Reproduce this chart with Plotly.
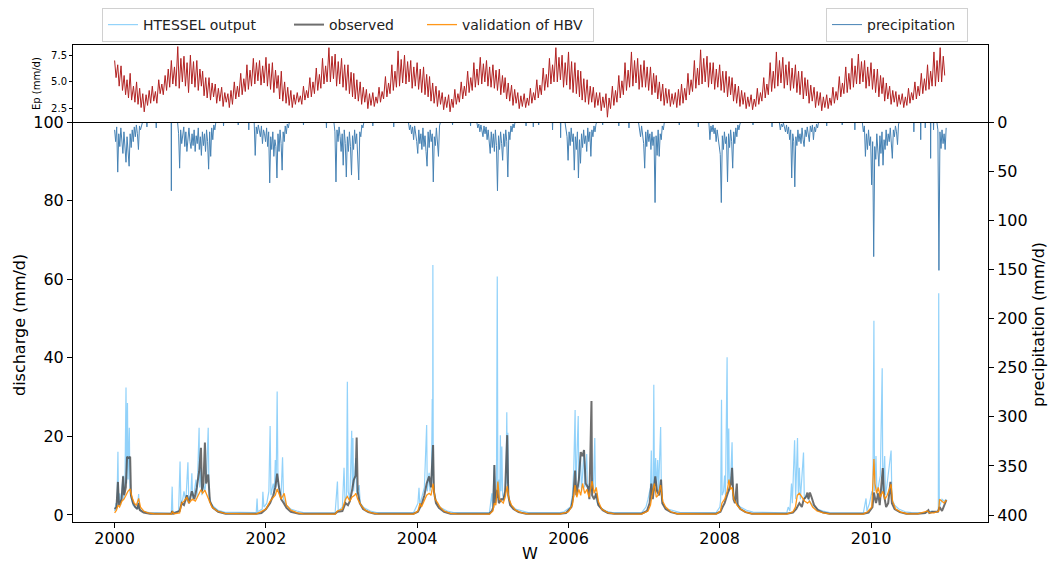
import plotly.graph_objects as go
import pandas as pd

# ---------------- axis tick labels ----------------
x_tick_years = [2000, 2002, 2004, 2006, 2008, 2010]
q_ticks = [0, 20, 40, 60, 80, 100]
p_ticks = [0, 50, 100, 150, 200, 250, 300, 350, 400]
ep_ticks = [2.5, 5.0, 7.5]

# ---------------- Ep (mm/d): readings on days 1, 8, 16, 23 of each month ----------------
ep_years = list(range(2000, 2011))
ep_days = [1, 8, 16, 23]
ep_values = [
    [7.0, 5.4, 6.6, 4.6, 6.5, 4.2, 5.6, 3.8, 5.2, 3.5, 5.8, 3.3, 4.6, 3.1, 5.0, 2.9, 4.4, 2.6, 3.9, 2.2, 3.8, 2.8, 4.2, 3.0,
     4.6, 3.2, 4.1, 3.0, 5.2, 3.9, 4.8, 3.8, 5.6, 4.2, 6.2, 4.5, 7.0, 4.8, 6.4, 4.6, 8.3, 4.4, 7.2, 5.0, 7.4, 4.6, 6.8, 4.0],
    [7.5, 4.8, 6.9, 4.5, 7.0, 4.2, 6.2, 4.6, 6.0, 3.7, 5.4, 3.5, 5.4, 3.3, 4.9, 3.6, 4.8, 3.0, 4.4, 3.2, 4.5, 2.7, 4.0, 3.1,
     3.9, 2.6, 4.2, 2.9, 5.0, 3.4, 4.6, 3.6, 5.8, 3.8, 5.3, 4.1, 6.6, 4.3, 6.1, 4.6, 7.2, 4.8, 6.8, 5.1, 7.0, 4.7, 6.5, 4.9],
    [7.3, 4.6, 6.7, 4.3, 6.8, 4.0, 6.1, 4.4, 5.6, 3.4, 6.0, 3.2, 5.0, 3.0, 4.5, 2.8, 4.2, 2.6, 3.8, 2.9, 4.0, 3.1, 3.7, 2.9,
     4.6, 3.3, 4.2, 3.5, 5.4, 3.6, 5.0, 3.9, 6.3, 4.2, 5.7, 4.4, 7.2, 4.8, 6.5, 5.0, 8.2, 5.0, 7.4, 5.3, 7.6, 4.6, 6.9, 4.8],
    [7.2, 4.5, 6.6, 4.2, 6.6, 3.9, 5.9, 3.6, 5.8, 3.4, 5.2, 3.2, 5.0, 2.9, 4.5, 3.1, 4.3, 2.5, 3.9, 2.8, 4.0, 2.7, 3.6, 3.0,
     4.5, 3.1, 4.1, 3.4, 5.5, 3.6, 4.9, 3.9, 6.6, 4.2, 6.0, 4.5, 7.9, 4.6, 7.1, 4.9, 7.5, 4.8, 6.9, 5.0, 7.0, 4.4, 6.4, 4.6],
    [6.8, 4.3, 6.2, 4.0, 6.4, 3.8, 5.7, 3.6, 5.5, 3.2, 4.9, 3.0, 4.6, 2.7, 4.2, 2.9, 4.0, 2.4, 3.6, 2.6, 3.8, 2.2, 3.4, 2.6,
     4.3, 2.9, 3.9, 3.1, 5.0, 3.4, 4.6, 3.7, 6.0, 4.0, 5.4, 4.2, 6.8, 4.5, 6.2, 4.7, 7.3, 4.8, 6.7, 5.0, 7.0, 4.6, 6.4, 4.5],
    [6.6, 4.4, 6.1, 4.2, 6.2, 3.8, 5.6, 4.0, 5.4, 3.4, 4.9, 3.2, 4.7, 2.8, 4.3, 3.0, 4.0, 2.5, 3.7, 2.7, 3.9, 2.6, 3.5, 2.8,
     4.4, 3.0, 4.0, 3.3, 5.2, 3.5, 4.7, 3.8, 6.3, 4.2, 5.7, 4.5, 7.2, 4.8, 6.6, 5.0, 8.2, 5.0, 7.3, 5.2, 7.5, 4.5, 6.8, 4.7],
    [7.8, 4.3, 6.9, 4.0, 6.8, 3.9, 6.1, 3.6, 6.0, 3.3, 5.3, 3.1, 5.2, 2.9, 4.6, 3.1, 4.5, 2.6, 4.0, 2.8, 4.0, 2.3, 3.6, 2.6,
     3.9, 1.7, 3.5, 2.5, 4.6, 2.8, 4.2, 3.1, 5.6, 3.5, 5.1, 3.8, 6.8, 4.2, 6.1, 4.5, 7.8, 4.6, 7.0, 4.9, 7.2, 4.3, 6.6, 4.5],
    [7.0, 4.5, 6.4, 4.2, 6.4, 3.8, 5.8, 4.0, 5.6, 3.4, 5.0, 3.2, 4.8, 2.8, 4.4, 3.0, 4.3, 2.7, 3.9, 2.9, 4.0, 2.6, 4.3, 2.8,
     4.8, 3.0, 4.4, 3.3, 5.8, 3.8, 5.2, 4.1, 7.0, 4.4, 6.3, 4.7, 8.0, 4.8, 7.2, 5.0, 7.4, 4.5, 6.8, 4.8, 6.8, 4.3, 6.2, 4.5],
    [6.6, 4.2, 6.0, 4.0, 6.0, 3.6, 5.5, 3.8, 5.4, 3.2, 4.8, 3.0, 4.6, 2.7, 4.2, 2.9, 4.0, 2.5, 3.6, 2.7, 3.8, 2.4, 3.4, 2.7,
     4.4, 2.9, 4.0, 3.2, 5.4, 3.5, 4.8, 3.8, 6.8, 4.1, 6.0, 4.4, 7.8, 4.6, 7.0, 4.9, 7.3, 4.4, 6.6, 4.7, 6.9, 4.2, 6.3, 4.4],
    [6.6, 4.0, 6.0, 3.8, 6.0, 3.4, 5.4, 3.7, 5.2, 3.0, 4.7, 3.2, 4.5, 2.6, 4.1, 2.8, 4.0, 2.3, 3.6, 2.6, 3.8, 2.5, 3.5, 2.8,
     4.5, 3.0, 4.1, 3.3, 5.5, 3.6, 4.9, 3.9, 6.4, 4.0, 5.8, 4.3, 7.2, 4.5, 6.5, 4.8, 7.6, 4.8, 6.9, 5.0, 7.0, 4.4, 6.4, 4.6],
    [6.8, 4.3, 6.2, 4.0, 6.2, 3.6, 5.6, 3.9, 5.4, 3.2, 4.9, 3.4, 4.6, 2.9, 4.2, 3.1, 4.1, 2.7, 3.8, 2.9, 3.9, 2.6, 3.6, 2.8,
     4.4, 3.0, 4.0, 3.3, 5.0, 3.4, 4.6, 3.7, 5.8, 3.9, 5.3, 4.2, 6.6, 4.3, 6.0, 4.6, 7.8, 4.6, 7.0, 5.0, 8.2, 5.0, 7.4, 5.6],
]

# ---------------- precipitation (mm/d) ----------------
# wet-season blocks: start date + readings every 5 days
prec_block_step_days = 5
prec_block_starts = ["2000-01-01", "2000-10-31", "2001-11-05", "2002-11-25", "2003-11-20",
                     "2004-10-15", "2005-12-15", "2006-12-05", "2007-11-10", "2008-10-15",
                     "2009-11-20", "2010-11-15"]
prec_blocks = [
    [8, 20, 5, 51, 12, 25, 6, 22, 32, 10, 24, 41, 15, 30, 45, 12, 26, 8, 20, 5, 15, 3, 12, 28, 4, 8, 2, 0],
    [0, 12, 47, 8, 22, 15, 5, 25, 10, 30, 18, 6, 20, 27, 12, 24, 8, 30, 14, 22, 6, 28, 15, 34, 10,
     24, 12, 30, 8, 20, 48, 10, 35, 6, 18, 3, 8, 0],
    [0, 34, 5, 12, 3, 8, 15, 4, 22, 8, 12, 20, 6, 25, 10, 62, 15, 28, 10, 35, 18, 25, 57, 12, 30,
     8, 22, 49, 10, 20, 4, 12, 2, 6, 0],
    [0, 10, 61, 8, 20, 5, 15, 30, 12, 44, 8, 22, 56, 15, 30, 10, 25, 54, 14, 28, 8, 22, 12, 30, 59,
     10, 15, 3, 6, 0],
    [0, 8, 3, 12, 5, 18, 4, 10, 20, 32, 8, 22, 12, 28, 6, 25, 14, 30, 45, 10, 26, 8, 20, 12, 61,
     15, 24, 6, 18, 35, 4, 0],
    [0, 6, 2, 10, 3, 8, 15, 4, 12, 5, 18, 8, 22, 32, 10, 26, 12, 30, 8, 24, 70, 14, 28, 10, 22,
     39, 12, 25, 8, 20, 56, 10, 18, 4, 10, 2, 6, 0],
    [0, 8, 15, 39, 10, 24, 6, 20, 12, 49, 15, 28, 10, 57, 18, 42, 12, 26, 8, 22, 14, 30, 6, 20, 10,
     35, 8, 15, 4, 10, 2, 0],
    [0, 6, 15, 4, 12, 22, 47, 10, 25, 8, 20, 12, 28, 10, 24, 15, 82, 14, 34, 8, 35, 12, 18, 4, 8, 0],
    [0, 18, 4, 10, 3, 12, 6, 20, 8, 15, 25, 33, 82, 14, 28, 10, 22, 15, 61, 12, 26, 8, 20, 47, 10,
     22, 6, 15, 3, 8, 2, 0],
    [0, 8, 2, 5, 1, 6, 10, 3, 12, 5, 18, 8, 57, 12, 20, 66, 15, 24, 8, 20, 12, 22, 6, 18, 25,
     8, 15, 5, 12, 20, 4, 10, 3, 18, 5, 10, 2, 6, 0],
    [0, 10, 4, 35, 12, 28, 8, 24, 15, 64, 20, 137, 25, 38, 12, 30, 45, 14, 32, 10, 44, 18, 28, 8, 24,
     12, 20, 6, 18, 37, 8, 15, 4, 10, 23, 2, 0],
    [0, 8, 151, 10, 27, 8, 22, 12, 28, 6],
]
# isolated dry-season showers
prec_spike_dates = ["2000-06-05", "2000-07-20", "2000-10-01", "2001-06-10", "2001-08-20", "2001-10-10",
                    "2002-07-01", "2002-10-20", "2003-06-01", "2003-09-10", "2004-06-20", "2004-09-15",
                    "2005-06-10", "2005-07-15", "2005-08-10", "2005-10-16", "2005-11-24", "2006-06-15",
                    "2006-09-01", "2006-10-20", "2007-06-20", "2007-09-20", "2008-06-10", "2008-09-10",
                    "2009-06-01", "2009-08-15", "2009-10-15", "2010-07-27", "2010-08-29", "2010-09-20",
                    "2010-10-16", "2010-10-30"]
prec_spike_values = [5, 6, 70, 4, 3, 8,
                     3, 6, 4, 5, 3, 4,
                     4, 5, 3, 8, 16, 3,
                     4, 6, 3, 5, 3, 5,
                     4, 3, 8, 10, 18, 6,
                     37, 8]

# ---------------- discharge (mm/d) ----------------
htessel = [
    ("2000-01-01", 1.0), ("2000-01-08", 3.0), ("2000-01-12", 1.5), ("2000-01-17", 16.1), ("2000-01-20", 3.0),
    ("2000-01-26", 5.5), ("2000-01-30", 2.5), ("2000-02-05", 7.0), ("2000-02-11", 10.0), ("2000-02-14", 4.0),
    ("2000-02-20", 8.0), ("2000-02-25", 32.4), ("2000-02-28", 8.0), ("2000-03-03", 28.5), ("2000-03-06", 9.0),
    ("2000-03-12", 22.2), ("2000-03-15", 6.0), ("2000-03-22", 4.0), ("2000-03-30", 2.5), ("2000-04-08", 2.0),
    ("2000-04-20", 1.5), ("2000-04-26", 5.3), ("2000-04-29", 1.5), ("2000-05-15", 1.0), ("2000-06-15", 0.6),
    ("2000-10-01", 0.4), ("2000-10-05", 7.2), ("2000-10-08", 0.6), ("2000-11-05", 1.0), ("2000-11-12", 13.6),
    ("2000-11-16", 3.0), ("2000-11-25", 4.0), ("2000-12-01", 6.0), ("2000-12-10", 3.5), ("2000-12-20", 13.4),
    ("2000-12-24", 4.0), ("2001-01-03", 5.0), ("2001-01-08", 10.6), ("2001-01-12", 4.0), ("2001-01-20", 6.0),
    ("2001-01-28", 9.0), ("2001-02-02", 4.5), ("2001-02-12", 22.2), ("2001-02-15", 7.0), ("2001-02-21", 12.0),
    ("2001-02-25", 5.0), ("2001-03-05", 8.0), ("2001-03-12", 6.0), ("2001-03-20", 10.0), ("2001-03-28", 22.2),
    ("2001-04-01", 5.0), ("2001-04-10", 3.0), ("2001-04-25", 2.0), ("2001-05-15", 1.2), ("2001-06-15", 0.7),
    ("2001-11-15", 0.6), ("2001-11-19", 4.2), ("2001-11-22", 0.8), ("2001-12-14", 1.5), ("2001-12-17", 5.9),
    ("2001-12-22", 2.0), ("2002-01-05", 3.0), ("2002-01-15", 6.0), ("2002-01-21", 22.6), ("2002-01-25", 5.0),
    ("2002-02-05", 8.0), ("2002-02-10", 5.0), ("2002-02-15", 14.0), ("2002-02-19", 7.0), ("2002-02-24", 31.4),
    ("2002-02-28", 8.0), ("2002-03-08", 6.0), ("2002-03-15", 5.0), ("2002-03-22", 14.7), ("2002-03-27", 4.0),
    ("2002-04-10", 2.5), ("2002-04-30", 1.5), ("2002-05-30", 1.0), ("2002-06-30", 0.6),
    ("2002-12-01", 0.5), ("2002-12-12", 8.5), ("2002-12-16", 1.0), ("2003-01-05", 2.0), ("2003-01-13", 12.0),
    ("2003-01-18", 3.0), ("2003-01-25", 5.0), ("2003-01-29", 33.9), ("2003-02-02", 6.0), ("2003-02-10", 4.0),
    ("2003-02-19", 21.4), ("2003-02-22", 7.0), ("2003-02-25", 19.6), ("2003-02-28", 6.0), ("2003-03-11", 14.5),
    ("2003-03-15", 5.0), ("2003-03-27", 7.6), ("2003-04-01", 3.0), ("2003-04-20", 1.8), ("2003-05-20", 1.0),
    ("2003-06-20", 0.6),
    ("2003-12-15", 0.6), ("2004-01-05", 3.0), ("2004-01-10", 6.9), ("2004-01-14", 2.5), ("2004-01-25", 5.0),
    ("2004-02-05", 7.0), ("2004-02-16", 22.9), ("2004-02-19", 6.0), ("2004-02-28", 10.7), ("2004-03-03", 6.0),
    ("2004-03-10", 8.0), ("2004-03-14", 29.5), ("2004-03-16", 10.0), ("2004-03-17", 63.6), ("2004-03-19", 8.0),
    ("2004-03-26", 5.0), ("2004-04-05", 3.0), ("2004-04-25", 1.8), ("2004-05-25", 1.0), ("2004-06-25", 0.6),
    ("2004-12-15", 0.6), ("2004-12-27", 5.5), ("2004-12-30", 2.0), ("2005-01-08", 12.7), ("2005-01-12", 4.0),
    ("2005-01-18", 6.0), ("2005-01-22", 60.7), ("2005-01-25", 5.0), ("2005-01-31", 9.0), ("2005-02-03", 4.0),
    ("2005-02-06", 20.3), ("2005-02-09", 6.0), ("2005-02-13", 17.4), ("2005-02-17", 5.0), ("2005-02-25", 4.0),
    ("2005-03-05", 8.0), ("2005-03-09", 26.1), ("2005-03-12", 8.0), ("2005-03-14", 20.9), ("2005-03-18", 4.0),
    ("2005-03-30", 2.5), ("2005-04-20", 1.5), ("2005-05-20", 1.0), ("2005-06-20", 0.6),
    ("2005-11-20", 0.6), ("2005-12-10", 0.8), ("2006-01-10", 2.0), ("2006-01-20", 5.0), ("2006-01-26", 11.0),
    ("2006-02-02", 26.7), ("2006-02-05", 6.0), ("2006-02-10", 15.0), ("2006-02-17", 25.2), ("2006-02-20", 7.0),
    ("2006-02-28", 15.0), ("2006-03-05", 6.0), ("2006-03-17", 16.5), ("2006-03-20", 7.0), ("2006-03-30", 15.5),
    ("2006-04-03", 6.0), ("2006-04-12", 8.0), ("2006-04-20", 6.0), ("2006-05-01", 7.0), ("2006-05-08", 19.6),
    ("2006-05-11", 5.0), ("2006-05-20", 3.0), ("2006-06-05", 1.8), ("2006-07-01", 1.0), ("2006-08-01", 0.6),
    ("2006-12-20", 0.6), ("2007-01-10", 2.0), ("2007-01-20", 4.0), ("2007-02-01", 7.0), ("2007-02-05", 16.4),
    ("2007-02-08", 5.0), ("2007-02-14", 8.0), ("2007-02-17", 33.1), ("2007-02-20", 6.0), ("2007-02-26", 14.5),
    ("2007-03-01", 6.0), ("2007-03-08", 14.0), ("2007-03-12", 6.0), ("2007-03-22", 22.4), ("2007-03-26", 4.0),
    ("2007-04-05", 2.5), ("2007-04-25", 1.5), ("2007-05-25", 1.0), ("2007-06-25", 0.6),
    ("2007-12-15", 0.6), ("2008-01-02", 2.0), ("2008-01-06", 4.0), ("2008-01-10", 29.3), ("2008-01-13", 5.0),
    ("2008-01-20", 6.0), ("2008-01-25", 10.0), ("2008-01-29", 5.0), ("2008-02-06", 40.1), ("2008-02-09", 8.0),
    ("2008-02-14", 22.0), ("2008-02-17", 6.0), ("2008-02-24", 10.0), ("2008-03-01", 18.5), ("2008-03-05", 5.0),
    ("2008-03-15", 4.0), ("2008-03-25", 3.0), ("2008-04-10", 2.0), ("2008-05-10", 1.2), ("2008-06-10", 0.7),
    ("2008-11-20", 0.5), ("2008-11-27", 2.0), ("2008-12-05", 1.0), ("2008-12-13", 8.0), ("2008-12-17", 3.0),
    ("2008-12-28", 19.0), ("2009-01-02", 4.0), ("2009-01-11", 19.6), ("2009-01-15", 5.0), ("2009-01-20", 12.0),
    ("2009-01-25", 4.0), ("2009-02-09", 15.9), ("2009-02-13", 4.0), ("2009-02-25", 5.0), ("2009-03-10", 3.5),
    ("2009-03-25", 2.5), ("2009-04-15", 1.5), ("2009-05-15", 1.0), ("2009-06-15", 0.6),
    ("2009-11-25", 0.5), ("2009-12-08", 4.2), ("2009-12-12", 1.0), ("2009-12-25", 3.0), ("2010-01-05", 6.0),
    ("2010-01-10", 5.0), ("2010-01-15", 49.4), ("2010-01-18", 6.0), ("2010-01-25", 15.0), ("2010-01-30", 5.0),
    ("2010-02-08", 8.0), ("2010-02-15", 10.0), ("2010-02-24", 37.3), ("2010-02-27", 6.0), ("2010-03-08", 15.0),
    ("2010-03-12", 5.0), ("2010-03-20", 8.0), ("2010-04-08", 16.4), ("2010-04-12", 4.0), ("2010-04-25", 2.5),
    ("2010-05-15", 1.5), ("2010-06-15", 0.8), ("2010-07-15", 0.6),
    ("2010-09-15", 0.5), ("2010-10-01", 1.0), ("2010-10-05", 0.5), ("2010-10-20", 1.0), ("2010-11-01", 0.6),
    ("2010-11-22", 1.0), ("2010-11-24", 56.4), ("2010-11-27", 2.0), ("2010-12-10", 4.0), ("2010-12-20", 3.5),
    ("2010-12-31", 4.0),
]

observed = [
    ("2000-01-01", 1.5), ("2000-01-10", 2.0), ("2000-01-17", 8.4), ("2000-01-22", 2.5), ("2000-02-04", 4.0),
    ("2000-02-11", 9.8), ("2000-02-16", 5.0), ("2000-02-24", 7.0), ("2000-03-01", 14.8), ("2000-03-08", 14.5),
    ("2000-03-16", 14.8), ("2000-03-20", 5.0), ("2000-03-30", 3.0), ("2000-04-10", 2.0), ("2000-04-20", 1.5),
    ("2000-04-26", 3.0), ("2000-05-02", 1.2), ("2000-05-20", 0.6), ("2000-06-20", 0.3),
    ("2000-10-01", 0.3), ("2000-10-05", 1.0), ("2000-10-10", 0.3), ("2000-11-10", 1.0), ("2000-11-20", 3.0),
    ("2000-12-01", 2.5), ("2000-12-15", 5.0), ("2000-12-25", 3.0), ("2001-01-08", 6.0), ("2001-01-20", 4.0),
    ("2001-02-01", 7.0), ("2001-02-12", 11.0), ("2001-02-21", 17.1), ("2001-02-26", 6.0), ("2001-03-05", 8.0),
    ("2001-03-12", 18.4), ("2001-03-18", 8.0), ("2001-03-28", 10.3), ("2001-04-05", 3.5), ("2001-04-20", 1.8),
    ("2001-05-15", 0.8), ("2001-06-20", 0.3),
    ("2001-11-15", 0.3), ("2001-12-10", 0.5), ("2002-01-01", 1.5), ("2002-01-21", 3.0), ("2002-02-05", 5.0),
    ("2002-02-15", 7.0), ("2002-02-24", 10.5), ("2002-03-05", 7.0), ("2002-03-15", 4.0), ("2002-03-28", 3.0),
    ("2002-04-10", 1.8), ("2002-05-01", 0.8), ("2002-06-10", 0.3),
    ("2002-12-01", 0.3), ("2002-12-12", 0.8), ("2003-01-05", 1.0), ("2003-01-20", 3.0), ("2003-02-01", 2.5),
    ("2003-02-10", 3.5), ("2003-02-20", 6.0), ("2003-03-01", 8.9), ("2003-03-10", 10.0), ("2003-03-15", 19.7),
    ("2003-03-20", 6.0), ("2003-03-30", 3.0), ("2003-04-15", 1.5), ("2003-05-10", 0.7), ("2003-06-10", 0.3),
    ("2003-12-15", 0.3), ("2004-01-05", 0.8), ("2004-01-15", 2.0), ("2004-01-25", 3.0), ("2004-02-05", 5.0),
    ("2004-02-16", 8.0), ("2004-02-28", 9.8), ("2004-03-08", 7.0), ("2004-03-18", 17.8), ("2004-03-22", 6.0),
    ("2004-04-01", 3.0), ("2004-04-15", 1.8), ("2004-05-10", 0.8), ("2004-06-10", 0.3),
    ("2004-12-15", 0.3), ("2004-12-27", 1.0), ("2005-01-03", 2.0), ("2005-01-08", 12.7), ("2005-01-12", 3.0),
    ("2005-01-22", 6.4), ("2005-01-30", 3.0), ("2005-02-10", 4.0), ("2005-02-20", 3.9), ("2005-03-01", 6.0),
    ("2005-03-11", 20.3), ("2005-03-16", 5.0), ("2005-03-25", 2.5), ("2005-04-10", 1.5), ("2005-05-05", 0.7),
    ("2005-06-10", 0.3),
    ("2005-11-20", 0.3), ("2005-12-20", 0.5), ("2006-01-15", 2.0), ("2006-01-24", 4.7), ("2006-02-02", 11.3),
    ("2006-02-08", 5.0), ("2006-02-20", 9.0), ("2006-03-01", 16.0), ("2006-03-10", 15.0), ("2006-03-17", 16.5),
    ("2006-03-25", 8.0), ("2006-04-05", 7.0), ("2006-04-12", 4.0), ("2006-04-22", 29.0), ("2006-04-25", 5.0),
    ("2006-05-05", 4.0), ("2006-05-15", 5.5), ("2006-05-25", 2.5), ("2006-06-15", 1.2), ("2006-07-10", 0.5),
    ("2006-08-10", 0.3),
    ("2006-12-20", 0.3), ("2007-01-15", 1.0), ("2007-01-28", 3.0), ("2007-02-05", 8.0), ("2007-02-12", 4.0),
    ("2007-02-24", 9.8), ("2007-03-05", 6.0), ("2007-03-15", 5.0), ("2007-03-24", 9.0), ("2007-03-30", 3.0),
    ("2007-04-15", 1.5), ("2007-05-10", 0.7), ("2007-06-10", 0.3),
    ("2007-12-15", 0.3), ("2008-01-05", 0.8), ("2008-01-15", 2.0), ("2008-01-25", 3.0), ("2008-02-06", 5.0),
    ("2008-02-15", 6.5), ("2008-02-25", 8.0), ("2008-03-01", 12.0), ("2008-03-08", 4.0), ("2008-03-15", 3.0),
    ("2008-03-24", 8.0), ("2008-03-28", 2.5), ("2008-04-10", 1.5), ("2008-05-05", 0.7), ("2008-06-05", 0.3),
    ("2008-11-20", 0.3), ("2008-12-20", 0.6), ("2009-01-05", 1.5), ("2009-01-20", 3.0), ("2009-02-01", 2.0),
    ("2009-02-10", 4.0), ("2009-02-20", 4.5), ("2009-02-28", 5.7), ("2009-03-05", 4.0), ("2009-03-12", 5.7),
    ("2009-03-20", 4.5), ("2009-04-01", 2.5), ("2009-04-20", 1.2), ("2009-05-15", 0.6), ("2009-06-15", 0.3),
    ("2009-11-25", 0.3), ("2009-12-20", 0.6), ("2010-01-08", 2.0), ("2010-01-15", 5.7), ("2010-01-25", 3.0),
    ("2010-02-05", 5.5), ("2010-02-12", 2.5), ("2010-02-27", 11.9), ("2010-03-05", 5.0), ("2010-03-15", 2.0),
    ("2010-03-25", 3.0), ("2010-04-05", 8.4), ("2010-04-12", 3.0), ("2010-04-25", 1.5), ("2010-05-20", 0.7),
    ("2010-06-20", 0.3),
    ("2010-08-15", 0.3), ("2010-09-20", 0.5), ("2010-10-05", 1.2), ("2010-10-10", 0.5), ("2010-10-25", 0.8),
    ("2010-11-20", 0.8), ("2010-11-28", 2.0), ("2010-12-10", 1.0), ("2010-12-20", 2.5), ("2010-12-31", 3.8),
]

hbv = [
    ("2000-01-01", 0.5), ("2000-01-10", 1.2), ("2000-01-17", 2.5), ("2000-01-25", 2.0), ("2000-02-05", 3.5),
    ("2000-02-15", 4.0), ("2000-02-25", 5.0), ("2000-03-05", 6.0), ("2000-03-16", 6.6), ("2000-03-25", 4.5),
    ("2000-04-05", 3.0), ("2000-04-15", 2.5), ("2000-04-26", 4.2), ("2000-05-05", 2.0), ("2000-05-20", 1.0),
    ("2000-06-10", 0.5), ("2000-07-10", 0.3),
    ("2000-10-01", 0.2), ("2000-10-06", 0.8), ("2000-10-15", 0.3), ("2000-11-10", 0.5), ("2000-11-20", 3.0),
    ("2000-12-01", 3.5), ("2000-12-15", 4.5), ("2000-12-25", 3.0), ("2001-01-10", 4.0), ("2001-01-25", 3.5),
    ("2001-02-10", 5.0), ("2001-02-21", 6.4), ("2001-03-01", 5.5), ("2001-03-12", 6.3), ("2001-03-22", 5.0),
    ("2001-04-01", 3.8), ("2001-04-15", 2.0), ("2001-05-10", 1.0), ("2001-06-15", 0.4),
    ("2001-11-15", 0.2), ("2001-12-10", 0.8), ("2002-01-01", 1.5), ("2002-01-21", 3.5), ("2002-02-05", 4.5),
    ("2002-02-15", 5.0), ("2002-02-24", 6.6), ("2002-03-05", 5.5), ("2002-03-15", 4.0), ("2002-03-30", 5.5),
    ("2002-04-10", 2.5), ("2002-05-01", 1.2), ("2002-06-01", 0.5), ("2002-07-01", 0.25),
    ("2002-12-01", 0.2), ("2002-12-12", 1.0), ("2003-01-05", 1.5), ("2003-01-20", 4.0), ("2003-01-29", 4.7),
    ("2003-02-10", 3.5), ("2003-02-20", 4.5), ("2003-03-05", 5.0), ("2003-03-11", 5.5), ("2003-03-20", 4.0),
    ("2003-04-05", 2.5), ("2003-04-25", 1.2), ("2003-05-25", 0.5), ("2003-06-25", 0.25),
    ("2003-12-15", 0.2), ("2004-01-05", 1.0), ("2004-01-15", 3.0), ("2004-01-22", 2.0), ("2004-02-05", 3.5),
    ("2004-02-16", 5.0), ("2004-02-28", 5.5), ("2004-03-08", 5.0), ("2004-03-18", 8.0), ("2004-03-28", 4.0),
    ("2004-04-10", 3.0), ("2004-04-20", 2.0), ("2004-05-10", 1.0), ("2004-06-10", 0.4), ("2004-07-10", 0.25),
    ("2004-12-15", 0.2), ("2005-01-01", 1.0), ("2005-01-08", 3.0), ("2005-01-15", 2.5), ("2005-01-25", 8.5),
    ("2005-02-01", 4.0), ("2005-02-10", 3.5), ("2005-02-20", 3.0), ("2005-03-01", 4.5), ("2005-03-11", 7.3),
    ("2005-03-20", 4.0), ("2005-04-01", 2.5), ("2005-04-20", 1.2), ("2005-05-20", 0.5), ("2005-06-20", 0.25),
    ("2005-11-20", 0.2), ("2006-01-01", 0.8), ("2006-01-20", 2.5), ("2006-02-02", 7.6), ("2006-02-10", 4.5),
    ("2006-02-20", 6.5), ("2006-03-01", 5.0), ("2006-03-10", 8.0), ("2006-03-20", 5.5), ("2006-04-01", 6.5),
    ("2006-04-10", 4.5), ("2006-04-25", 8.6), ("2006-05-05", 5.5), ("2006-05-15", 7.0), ("2006-05-25", 3.5),
    ("2006-06-10", 1.5), ("2006-07-10", 0.6), ("2006-08-10", 0.25),
    ("2006-12-20", 0.2), ("2007-01-20", 1.0), ("2007-02-01", 2.5), ("2007-02-10", 5.5), ("2007-02-20", 8.0),
    ("2007-03-01", 4.5), ("2007-03-10", 5.0), ("2007-03-22", 7.6), ("2007-04-01", 3.5), ("2007-04-15", 2.0),
    ("2007-05-10", 0.8), ("2007-06-10", 0.3),
    ("2007-12-15", 0.2), ("2008-01-05", 1.0), ("2008-01-12", 3.0), ("2008-01-25", 4.0), ("2008-02-06", 6.0),
    ("2008-02-15", 9.0), ("2008-02-22", 6.5), ("2008-03-01", 7.0), ("2008-03-10", 4.0), ("2008-03-25", 2.5),
    ("2008-04-10", 1.5), ("2008-05-05", 0.7), ("2008-06-05", 0.25),
    ("2008-11-20", 0.2), ("2008-12-20", 0.8), ("2009-01-01", 2.0), ("2009-01-10", 5.0), ("2009-01-20", 5.5),
    ("2009-02-01", 4.5), ("2009-02-15", 3.5), ("2009-03-01", 3.0), ("2009-03-10", 3.5), ("2009-03-25", 2.0),
    ("2009-04-15", 1.0), ("2009-05-15", 0.5), ("2009-06-15", 0.25),
    ("2009-11-25", 0.2), ("2009-12-15", 0.8), ("2010-01-05", 2.0), ("2010-01-15", 14.2), ("2010-01-20", 8.0),
    ("2010-01-28", 5.5), ("2010-02-05", 7.0), ("2010-02-15", 4.5), ("2010-02-27", 6.0), ("2010-03-10", 4.0),
    ("2010-03-20", 5.0), ("2010-04-08", 7.8), ("2010-04-15", 3.5), ("2010-04-30", 1.5), ("2010-05-25", 0.7),
    ("2010-06-25", 0.3),
    ("2010-08-15", 0.25), ("2010-09-20", 0.8), ("2010-10-01", 1.0), ("2010-10-10", 0.5), ("2010-11-01", 0.5),
    ("2010-11-24", 1.0), ("2010-11-28", 4.0), ("2010-12-10", 3.5), ("2010-12-20", 3.0), ("2010-12-31", 3.8),
]

# ---------------- build traces ----------------
ep_x, ep_y = [], []
for yr, vals in zip(ep_years, ep_values):
    for m in range(12):
        for k, d in enumerate(ep_days):
            ep_x.append(f"{yr}-{m + 1:02d}-{d:02d}")
            ep_y.append(vals[4 * m + k])

prec_pts = []
for start, vals in zip(prec_block_starts, prec_blocks):
    dates = pd.date_range(start, periods=len(vals), freq=f"{prec_block_step_days}D")
    prec_pts += list(zip(dates, vals))
for d, v in zip(prec_spike_dates, prec_spike_values):
    t = pd.Timestamp(d)
    prec_pts += [(t - pd.Timedelta(days=1), 0), (t, v), (t + pd.Timedelta(days=1), 0)]
prec_pts.sort(key=lambda p: p[0])
prec_x = [p[0] for p in prec_pts]
prec_y = [p[1] for p in prec_pts]


def split(series):
    s = sorted(series, key=lambda p: p[0])
    return [p[0] for p in s], [p[1] for p in s]


h_x, h_y = split(htessel)
o_x, o_y = split(observed)
b_x, b_y = split(hbv)

FONT = "DejaVu Sans"
fig = go.Figure()
fig.add_trace(go.Scatter(x=prec_x, y=prec_y, xaxis="x", yaxis="y2", mode="lines",
                         line=dict(color="#4682b4", width=1), name="precipitation",
                         legend="legend2", legendwidth=95))
fig.add_trace(go.Scatter(x=h_x, y=h_y, xaxis="x", yaxis="y", mode="lines",
                         line=dict(color="#87cefa", width=1.2), opacity=0.9,
                         name="HTESSEL output", legendwidth=141))
fig.add_trace(go.Scatter(x=o_x, y=o_y, xaxis="x", yaxis="y", mode="lines",
                         line=dict(color="#4a4a4a", width=2), opacity=0.8,
                         name="observed", legendwidth=88))
fig.add_trace(go.Scatter(x=b_x, y=b_y, xaxis="x", yaxis="y", mode="lines",
                         line=dict(color="#ff8c00", width=1.3), opacity=0.9,
                         name="validation of HBV", legendwidth=126))
fig.add_trace(go.Scatter(x=ep_x, y=ep_y, xaxis="x2", yaxis="y3", mode="lines",
                         line=dict(color="#b22222", width=1), showlegend=False))

W, H = 1048, 563
ML, MR, MT, MB = 73, 60, 45, 41
PW, PH = W - ML - MR, H - MT - MB
split_y = (522 - 122) / PH


def px(xp):
    return (xp - ML) / PW


def py(yp):
    return (H - MB - yp) / PH


axis_common = dict(showgrid=False, zeroline=False, showline=True, linecolor="black",
                   linewidth=1, ticks="outside", tickcolor="black", tickwidth=1)

legend_style = dict(orientation="h", xanchor="left", yanchor="top",
                    xref="container", yref="container",
                    bgcolor="white", bordercolor="#d0d0d0", borderwidth=1,
                    font=dict(family=FONT, size=14, color="#222222"))

fig.update_layout(
    width=W, height=H, autosize=False,
    margin=dict(l=ML, r=MR, t=MT, b=MB, autoexpand=False),
    paper_bgcolor="white", plot_bgcolor="white",
    font=dict(family=FONT, color="black"),
    xaxis=dict(domain=[0, 1], anchor="y", type="date",
               range=["1999-06-14", "2011-07-20"],
               tickvals=[f"{y}-01-01" for y in x_tick_years],
               ticktext=[str(y) for y in x_tick_years],
               ticklen=5, ticklabelstandoff=-3, tickfont=dict(size=16), **axis_common),
    yaxis=dict(domain=[0, split_y], anchor="x", range=[-1.8, 100],
               tickvals=q_ticks, ticklen=5, tickfont=dict(size=16), **axis_common),
    yaxis2=dict(overlaying="y", side="right", anchor="x", range=[407.1, 0],
                tickvals=p_ticks, ticklen=5, tickfont=dict(size=16), **axis_common),
    xaxis2=dict(domain=[0, 1], anchor="y3", matches="x", type="date",
                showticklabels=False, showgrid=False, zeroline=False,
                showline=True, linecolor="black", linewidth=1, mirror=True, ticks=""),
    yaxis3=dict(domain=[split_y, 1], anchor="x2", range=[1.25, 8.45],
                tickvals=ep_ticks, ticktext=[f"{v:.1f}" for v in ep_ticks],
                ticklen=3, tickfont=dict(size=10), mirror=True, **axis_common),
    legend=dict(x=102 / W, y=1 - 8 / H, **legend_style),
    legend2=dict(x=826 / W, y=1 - 8 / H, **legend_style),
    annotations=[
        dict(text="discharge (mm/d)", x=px(19), y=py(325), xref="paper", yref="paper",
             xanchor="center", yanchor="middle",
             textangle=-90, showarrow=False, font=dict(size=16)),
        dict(text="precipitation (mm/d)", x=px(1038), y=py(325), xref="paper", yref="paper",
             xanchor="center", yanchor="middle",
             textangle=-90, showarrow=False, font=dict(size=16)),
        dict(text="W", x=px(530), y=py(553), xref="paper", yref="paper",
             xanchor="center", yanchor="middle", showarrow=False, font=dict(size=16)),
        dict(text="Ep (mm/d)", x=px(36), y=py(84), xref="paper", yref="paper",
             xanchor="center", yanchor="middle",
             textangle=-90, showarrow=False, font=dict(size=10)),
    ],
)

fig.write_html("out.html", config={"displayModeBar": False},
               post_script="document.body.style.margin='0';")
